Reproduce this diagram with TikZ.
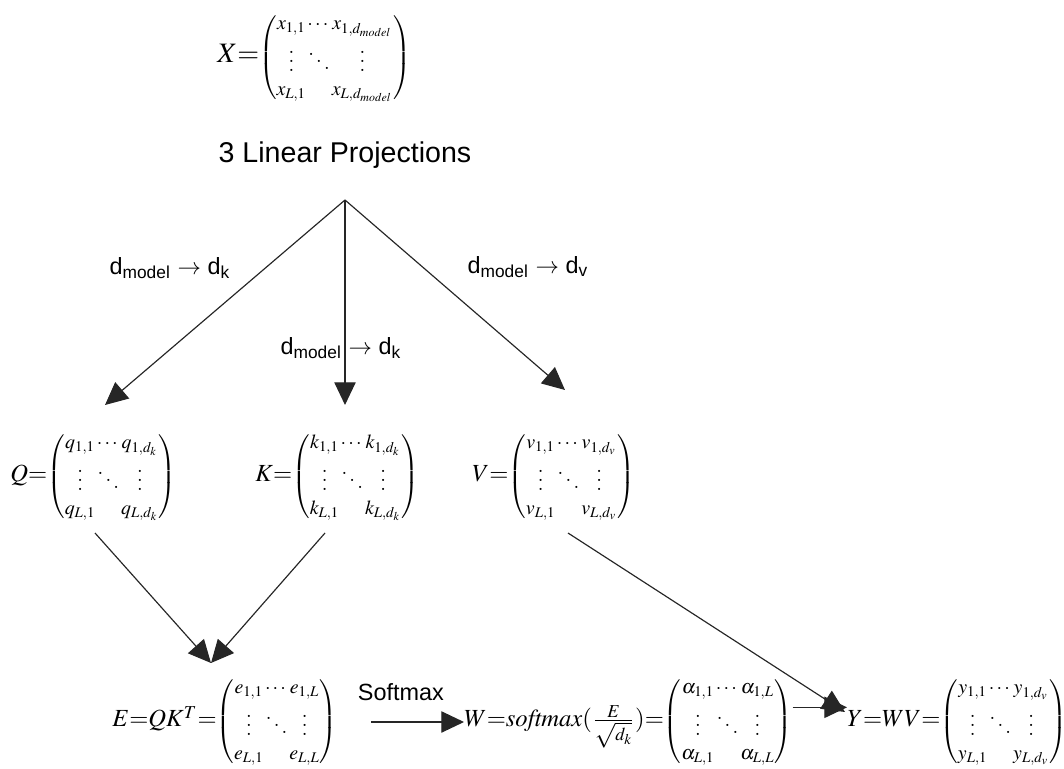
\documentclass[tikz,border=0pt]{standalone}
\usepackage{amsmath,amssymb}
\usepackage{mathptmx}
\usepackage{fontspec}
\newfontfamily\lblfont{Liberation Sans}
\usetikzlibrary{arrows.meta}
\setlength{\arraycolsep}{0.2pt}
\newcommand{\mtx}[1]{{\fontsize{8.5}{10}\selectfont$\begin{pmatrix}#1\end{pmatrix}$}}

\begin{document}
\begin{tikzpicture}[x=0.015cm,y=-0.015cm,
  flow/.style={draw=black!85,line width=0.5pt,-{Triangle[length=3.4mm,width=3.2mm]}},
  lbl/.style={font={\lblfont\fontsize{10}{12}\selectfont}},
  ttl/.style={font={\lblfont\fontsize{12.2}{14}\selectfont}},
  eq/.style={inner sep=0pt,anchor=west,font={\fontsize{10.5}{12}\selectfont}}]
  \useasboundingbox (0,0) rectangle (1064,769);
  % input
  \node[eq,font={\fontsize{12}{14}\selectfont}] (X) at (217,58)
    {$X{=}$\mtx{x_{1,1} & \cdots & x_{1,d_{model}}\\ \vdots & \ddots & \vdots\\ x_{L,1} & & x_{L,d_{model}}}};
  \node[ttl] (proj) at (345,155) {3 Linear Projections};
  \coordinate (split) at (345,200);
  \coordinate (qin) at (105,405);
  \coordinate (kin) at (345,405);
  \coordinate (vin) at (565,390);
  % projections
  \node[eq] (Q) at (10,477)
    {$Q{=}$\mtx{q_{1,1} & \cdots & q_{1,d_k}\\ \vdots & \ddots & \vdots\\ q_{L,1} & & q_{L,d_k}}};
  \node[eq] (K) at (255,477)
    {$K{=}$\mtx{k_{1,1} & \cdots & k_{1,d_k}\\ \vdots & \ddots & \vdots\\ k_{L,1} & & k_{L,d_k}}};
  \node[eq] (V) at (472,477)
    {$V{=}$\mtx{v_{1,1} & \cdots & v_{1,d_v}\\ \vdots & \ddots & \vdots\\ v_{L,1} & & v_{L,d_v}}};
  \draw[flow] (split) -- (qin);
  \draw[flow] (split) -- (kin);
  \draw[flow] (split) -- (vin);
  \node[lbl] (lq) at (170,268) {d\textsubscript{model} $\rightarrow$ d\textsubscript{k}};
  \node[lbl] (lk) at (341,348) {d\textsubscript{model} $\rightarrow$ d\textsubscript{k}};
  \node[lbl] (lv) at (528,267) {d\textsubscript{model} $\rightarrow$ d\textsubscript{v}};
  % attention
  \node[eq] (E) at (112,722)
    {$E{=}QK^T{=}$\mtx{e_{1,1} & \cdots & e_{1,L}\\ \vdots & \ddots & \vdots\\ e_{L,1} & & e_{L,L}}};
  \node[eq] (W) at (464,722)
    {$W{=}\mathit{softmax}(\frac{E}{\sqrt{d_k}}){=}$\mtx{\alpha_{1,1} & \cdots & \alpha_{1,L}\\ \vdots & \ddots & \vdots\\ \alpha_{L,1} & & \alpha_{L,L}}};
  \node[eq] (Y) at (847,722)
    {$Y{=}WV{=}$\mtx{y_{1,1} & \cdots & y_{1,d_v}\\ \vdots & \ddots & \vdots\\ y_{L,1} & & y_{L,d_v}}};
  \coordinate (qout) at (95,533);
  \coordinate (kout) at (325,533);
  \coordinate (vout) at (568,533);
  \coordinate (ein) at (211,663);
  \coordinate (yin) at (845,712);
  \draw[flow] (qout) -- (ein);
  \draw[flow] (kout) -- (ein);
  \draw[flow] (vout) -- (yin);
  \draw[flow,shorten <=5mm] (E) -- node[lbl,above=2mm] {Softmax} (W);
  \draw[flow] ([yshift=2.2mm]W.east) -- ([yshift=2.2mm]Y.west);
\end{tikzpicture}
\end{document}
